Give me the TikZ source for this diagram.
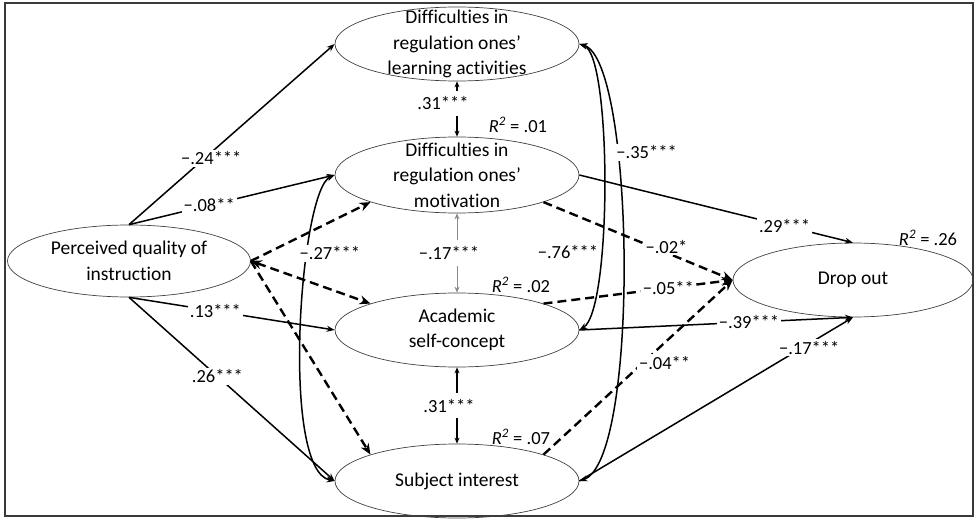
\documentclass[tikz,border=0pt]{standalone}
\usepackage{fontspec}
\setmainfont{Carlito}[Ligatures=NoCommon]
\usepackage{tikz}
\usetikzlibrary{arrows.meta,shapes.geometric}
\definecolor{outline}{HTML}{404040}
\definecolor{frame}{HTML}{3A3A3A}
\definecolor{faint}{HTML}{8C8C8C}

\begin{document}
\begin{tikzpicture}[x=1pt,y=-1pt,
  var/.style={ellipse,draw=outline,line width=0.7pt,minimum width=244pt,minimum height=74pt,
              inner xsep=-8pt,inner ysep=-12pt,align=center,font=\fontsize{19.5}{25.5}\selectfont},
  arr/.style={-{Stealth[length=8pt,width=6pt]},line width=1.5pt},
  darr/.style={-{Stealth[length=11pt,width=9pt]},line width=2.4pt,dash pattern=on 9pt off 5pt},
  ddarr/.style={darr,{Stealth[length=11pt,width=9pt]}-{Stealth[length=11pt,width=9pt]}},
  cov/.style={{Stealth[length=8pt,width=6pt]}-{Stealth[length=8pt,width=6pt]},line width=1.5pt},
  vcov/.style={{Stealth[length=6pt,width=5pt]}-{Stealth[length=6pt,width=5pt]},line width=1.3pt},
  lbl/.style={fill=white,inner sep=2pt,font=\fontsize{18.5}{22}\selectfont},
  rsq/.style={inner sep=1pt,font=\fontsize{18.5}{22}\selectfont}
]
\useasboundingbox (0,0) rectangle (976,519);
\draw[line width=1.6pt,draw=frame] (5,3) rectangle (973,516);

\node[var,minimum width=243pt,minimum height=72pt] (pq) at (129,261) {Perceived quality of\\instruction};
\node[var] (dl) at (457,44) {Difficulties in\\regulation ones’\\learning activities};
\node[var,minimum height=76pt] (dm) at (457,175) {Difficulties in\\regulation ones’\\motivation};
\node[var] (sc) at (457,330) {Academic\\self-concept};
\node[var] (si) at (457,481) {Subject interest};
\node[var,minimum width=240pt] (drop) at (853,280) {Drop out};

\node[rsq] (r1) at (518,125) {\textit{R\textsuperscript{2}} = .01};
\node[rsq] (r2) at (521,285) {\textit{R\textsuperscript{2}} = .02};
\node[rsq] (r3) at (521,437) {\textit{R\textsuperscript{2}} = .07};
\node[rsq] (r4) at (928,238) {\textit{R\textsuperscript{2}} = .26};

\draw[arr] (pq.north) -- node[lbl,pos=.4,yshift=-6pt] (e1) {−.24***} (dl.west);
\draw[arr] (pq.north) -- node[lbl,pos=.39] (e2) {−.08**} (dm.west);
\draw[arr] (pq.south) -- node[lbl,pos=.42] (e3) {.13***} (sc.west);
\draw[arr] (pq.south) -- node[lbl,pos=.43] (e4) {.26***} (si.west);
\draw[darr] (pq.east) -- (dm.south west);
\draw[ddarr] (pq.east) -- (sc.north west);
\draw[darr] (pq.east) -- (si.north west);

\draw[cov] (dm.west) .. controls (300,190) and (280,470) .. node[lbl,pos=.32,xshift=22pt] (e5) {−.27***} (si.west);
\draw[cov] (dl.east) .. controls (612,55) and (612,310) .. node[lbl,pos=.675,anchor=east] (e6) {−.76***} (sc.east);
\draw[cov] (dl.east) .. controls (635,60) and (640,460) .. node[lbl,pos=.32,anchor=west,xshift=-3pt] (e7) {−.35***} (si.east);

\draw[vcov] (dl.south) -- node[lbl,pos=.4,xshift=-14pt,inner ysep=6pt] (e8) {.31***} (dm.north);
\draw[vcov,line width=0.8pt,draw=faint] (dm.south) -- node[lbl,pos=.5,xshift=-8pt,inner ysep=6pt] (e9) {−.17***} (sc.north);
\draw[vcov] (sc.south) -- node[lbl,pos=.5,xshift=-8pt,inner ysep=6pt] (e10) {.31***} (si.north);

\draw[arr] (dm.east) -- node[lbl,pos=.75] (e11) {.29***} (drop.north);
\draw[arr] (sc.east) -- node[lbl,pos=.62] (e12) {−.39***} (drop.south);
\draw[arr] (si.east) -- node[lbl,pos=.84,yshift=-4pt] (e13) {−.17***} (drop.south);
\draw[darr] (dm.south east) -- node[lbl,pos=.65,yshift=6pt] (e14) {−.02*} (drop.west);
\draw[darr] (sc.north east) -- node[lbl,pos=.66] (e15) {−.05**} (drop.west);
\draw[darr] (si.north east) -- node[lbl,pos=.64,yshift=-20pt] (e16) {−.04**} (drop.west);
\end{tikzpicture}
\end{document}
